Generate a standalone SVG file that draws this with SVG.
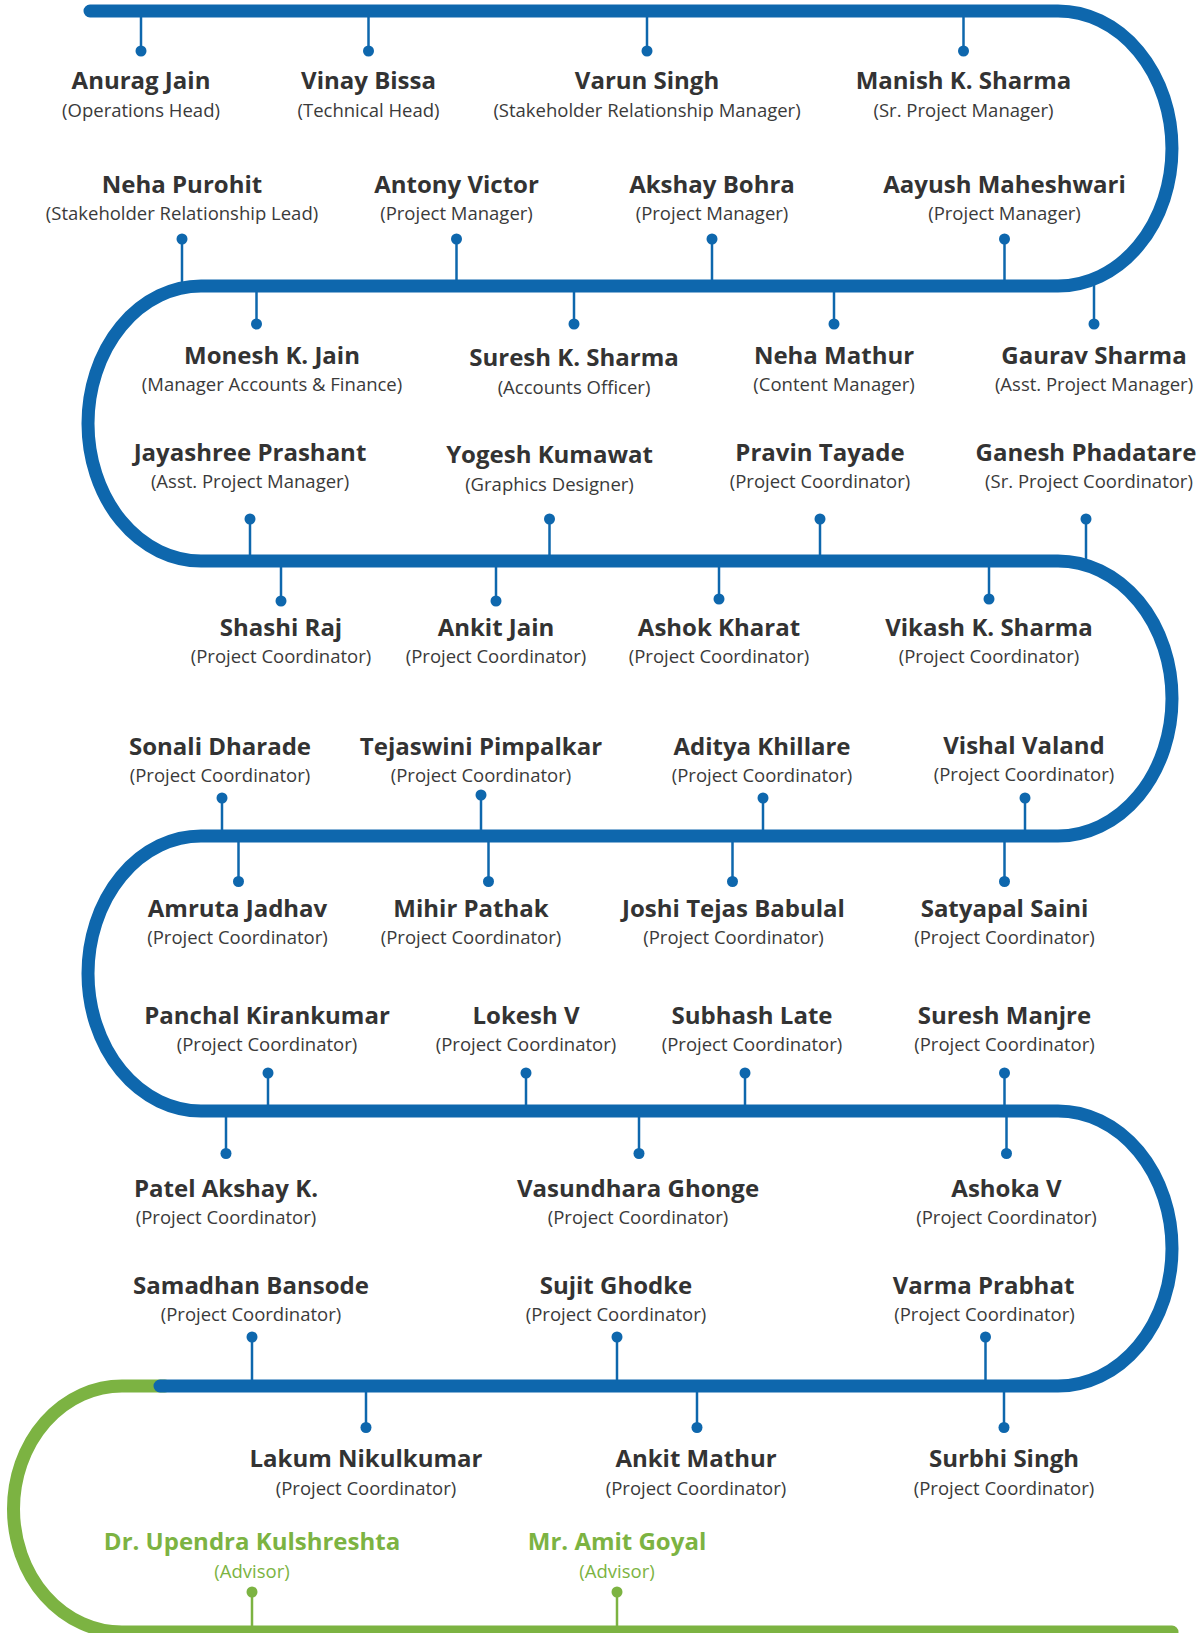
<svg xmlns="http://www.w3.org/2000/svg" width="1198" height="1633" viewBox="0 0 1198 1633">
<style>
.name{font-family:"Open Sans","DejaVu Sans",sans-serif;font-weight:700;font-size:24px;fill:#333333;text-anchor:middle}
.role{font-family:"Open Sans","DejaVu Sans",sans-serif;font-weight:400;font-size:18.5px;fill:#3a3a3a;text-anchor:middle}
.g .name,.g .role{fill:#7cb342}
.stem{stroke:#0e67ad;stroke-width:2.5;fill:none}
.dot{fill:#0e67ad}
.gstem{stroke:#7cb342;stroke-width:2.5;fill:none}
.gdot{fill:#7cb342}
</style>
<rect width="1198" height="1633" fill="#ffffff"/>
<g id="connectors">
<!-- row A -->
<line class="stem" x1="141" y1="11" x2="141" y2="51"/><circle class="dot" cx="141" cy="51" r="5.5"/>
<line class="stem" x1="368.5" y1="11" x2="368.5" y2="51"/><circle class="dot" cx="368.5" cy="51" r="5.5"/>
<line class="stem" x1="647" y1="11" x2="647" y2="51"/><circle class="dot" cx="647" cy="51" r="5.5"/>
<line class="stem" x1="963.5" y1="11" x2="963.5" y2="51"/><circle class="dot" cx="963.5" cy="51" r="5.5"/>
<!-- row B -->
<line class="stem" x1="182" y1="288" x2="182" y2="239"/><circle class="dot" cx="182" cy="239" r="5.5"/>
<line class="stem" x1="456.5" y1="286" x2="456.5" y2="239"/><circle class="dot" cx="456.5" cy="239" r="5.5"/>
<line class="stem" x1="712" y1="286" x2="712" y2="239"/><circle class="dot" cx="712" cy="239" r="5.5"/>
<line class="stem" x1="1004.5" y1="286" x2="1004.5" y2="239"/><circle class="dot" cx="1004.5" cy="239" r="5.5"/>
<!-- row C -->
<line class="stem" x1="256.5" y1="286" x2="256.5" y2="324"/><circle class="dot" cx="256.5" cy="324" r="5.5"/>
<line class="stem" x1="574" y1="286" x2="574" y2="324"/><circle class="dot" cx="574" cy="324" r="5.5"/>
<line class="stem" x1="834" y1="286" x2="834" y2="324"/><circle class="dot" cx="834" cy="324" r="5.5"/>
<line class="stem" x1="1094" y1="279" x2="1094" y2="324"/><circle class="dot" cx="1094" cy="324" r="5.5"/>
<!-- row D -->
<line class="stem" x1="250" y1="561" x2="250" y2="519"/><circle class="dot" cx="250" cy="519" r="5.5"/>
<line class="stem" x1="549.5" y1="561" x2="549.5" y2="519"/><circle class="dot" cx="549.5" cy="519" r="5.5"/>
<line class="stem" x1="820" y1="561" x2="820" y2="519"/><circle class="dot" cx="820" cy="519" r="5.5"/>
<line class="stem" x1="1086" y1="565" x2="1086" y2="519"/><circle class="dot" cx="1086" cy="519" r="5.5"/>
<!-- row E -->
<line class="stem" x1="281" y1="561" x2="281" y2="601"/><circle class="dot" cx="281" cy="601" r="5.5"/>
<line class="stem" x1="496" y1="561" x2="496" y2="601"/><circle class="dot" cx="496" cy="601" r="5.5"/>
<line class="stem" x1="719" y1="561" x2="719" y2="599"/><circle class="dot" cx="719" cy="599" r="5.5"/>
<line class="stem" x1="989" y1="561" x2="989" y2="599"/><circle class="dot" cx="989" cy="599" r="5.5"/>
<!-- row F -->
<line class="stem" x1="222" y1="836" x2="222" y2="798"/><circle class="dot" cx="222" cy="798" r="5.5"/>
<line class="stem" x1="481" y1="836" x2="481" y2="795"/><circle class="dot" cx="481" cy="795" r="5.5"/>
<line class="stem" x1="763" y1="836" x2="763" y2="798"/><circle class="dot" cx="763" cy="798" r="5.5"/>
<line class="stem" x1="1025" y1="836" x2="1025" y2="798"/><circle class="dot" cx="1025" cy="798" r="5.5"/>
<!-- row G -->
<line class="stem" x1="238.5" y1="836" x2="238.5" y2="881.5"/><circle class="dot" cx="238.5" cy="881.5" r="5.5"/>
<line class="stem" x1="488.5" y1="836" x2="488.5" y2="881.5"/><circle class="dot" cx="488.5" cy="881.5" r="5.5"/>
<line class="stem" x1="732.5" y1="836" x2="732.5" y2="881.5"/><circle class="dot" cx="732.5" cy="881.5" r="5.5"/>
<line class="stem" x1="1004.5" y1="836" x2="1004.5" y2="881.5"/><circle class="dot" cx="1004.5" cy="881.5" r="5.5"/>
<!-- row H -->
<line class="stem" x1="268" y1="1111" x2="268" y2="1073"/><circle class="dot" cx="268" cy="1073" r="5.5"/>
<line class="stem" x1="526" y1="1111" x2="526" y2="1073"/><circle class="dot" cx="526" cy="1073" r="5.5"/>
<line class="stem" x1="745" y1="1111" x2="745" y2="1073"/><circle class="dot" cx="745" cy="1073" r="5.5"/>
<line class="stem" x1="1004.5" y1="1111" x2="1004.5" y2="1073"/><circle class="dot" cx="1004.5" cy="1073" r="5.5"/>
<!-- row I -->
<line class="stem" x1="226" y1="1111" x2="226" y2="1153.5"/><circle class="dot" cx="226" cy="1153.5" r="5.5"/>
<line class="stem" x1="639" y1="1111" x2="639" y2="1153.5"/><circle class="dot" cx="639" cy="1153.5" r="5.5"/>
<line class="stem" x1="1006.5" y1="1111" x2="1006.5" y2="1153.5"/><circle class="dot" cx="1006.5" cy="1153.5" r="5.5"/>
<!-- row J -->
<line class="stem" x1="252" y1="1386" x2="252" y2="1337"/><circle class="dot" cx="252" cy="1337" r="5.5"/>
<line class="stem" x1="617" y1="1386" x2="617" y2="1337"/><circle class="dot" cx="617" cy="1337" r="5.5"/>
<line class="stem" x1="985.5" y1="1386" x2="985.5" y2="1337"/><circle class="dot" cx="985.5" cy="1337" r="5.5"/>
<!-- row K -->
<line class="stem" x1="366" y1="1386" x2="366" y2="1427.5"/><circle class="dot" cx="366" cy="1427.5" r="5.5"/>
<line class="stem" x1="697" y1="1386" x2="697" y2="1427.5"/><circle class="dot" cx="697" cy="1427.5" r="5.5"/>
<line class="stem" x1="1004" y1="1386" x2="1004" y2="1427.5"/><circle class="dot" cx="1004" cy="1427.5" r="5.5"/>
<!-- row L -->
<line class="gstem" x1="252" y1="1632" x2="252" y2="1592"/><circle class="gdot" cx="252" cy="1592" r="5.5"/>
<line class="gstem" x1="617" y1="1632" x2="617" y2="1592"/><circle class="gdot" cx="617" cy="1592" r="5.5"/>
</g>
<g id="track">
<path d="M165,1386 H122 A108.5 123 0 0 0 122,1632 H1172" fill="none" stroke="#7cb342" stroke-width="13" stroke-linecap="round"/>
<path d="M90,11 H1058 A114 137.5 0 0 1 1058,286 H201 A113 137.5 0 0 0 201,561 H1058 A114 137.5 0 0 1 1058,836 H201 A113 137.5 0 0 0 201,1111 H1058 A114 137.5 0 0 1 1058,1386 H160" fill="none" stroke="#0e67ad" stroke-width="13" stroke-linecap="round"/>
</g>
<g id="n-anurag"><text class="name" x="141" y="89">Anurag Jain</text><text class="role" x="141" y="116.5">(Operations Head)</text></g>
<g id="n-vinay"><text class="name" x="368.5" y="89">Vinay Bissa</text><text class="role" x="368.5" y="116.5">(Technical Head)</text></g>
<g id="n-varun"><text class="name" x="647" y="89">Varun Singh</text><text class="role" x="647" y="116.5">(Stakeholder Relationship Manager)</text></g>
<g id="n-manish"><text class="name" x="963.5" y="89">Manish K. Sharma</text><text class="role" x="963.5" y="116.5">(Sr. Project Manager)</text></g>
<g id="n-neha-purohit"><text class="name" x="182" y="193">Neha Purohit</text><text class="role" x="182" y="220">(Stakeholder Relationship Lead)</text></g>
<g id="n-antony"><text class="name" x="456.5" y="193">Antony Victor</text><text class="role" x="456.5" y="220">(Project Manager)</text></g>
<g id="n-akshay"><text class="name" x="712" y="193">Akshay Bohra</text><text class="role" x="712" y="220">(Project Manager)</text></g>
<g id="n-aayush"><text class="name" x="1004.5" y="193">Aayush Maheshwari</text><text class="role" x="1004.5" y="220">(Project Manager)</text></g>
<g id="n-monesh"><text class="name" x="272" y="364">Monesh K. Jain</text><text class="role" x="272" y="391">(Manager Accounts &amp; Finance)</text></g>
<g id="n-suresh-k"><text class="name" x="574" y="366">Suresh K. Sharma</text><text class="role" x="574" y="393.5">(Accounts Officer)</text></g>
<g id="n-neha-mathur"><text class="name" x="834" y="364">Neha Mathur</text><text class="role" x="834" y="391">(Content Manager)</text></g>
<g id="n-gaurav"><text class="name" x="1094" y="364">Gaurav Sharma</text><text class="role" x="1094" y="391">(Asst. Project Manager)</text></g>
<g id="n-jayashree"><text class="name" x="250" y="460.5">Jayashree Prashant</text><text class="role" x="250" y="488">(Asst. Project Manager)</text></g>
<g id="n-yogesh"><text class="name" x="549.5" y="463">Yogesh Kumawat</text><text class="role" x="549.5" y="490.5">(Graphics Designer)</text></g>
<g id="n-pravin"><text class="name" x="820" y="460.5">Pravin Tayade</text><text class="role" x="820" y="488">(Project Coordinator)</text></g>
<g id="n-ganesh"><text class="name" x="1086" y="460.5">Ganesh Phadatare</text><text class="role" x="1089" y="488">(Sr. Project Coordinator)</text></g>
<g id="n-shashi"><text class="name" x="281" y="636">Shashi Raj</text><text class="role" x="281" y="663">(Project Coordinator)</text></g>
<g id="n-ankit-jain"><text class="name" x="496" y="636">Ankit Jain</text><text class="role" x="496" y="663">(Project Coordinator)</text></g>
<g id="n-ashok"><text class="name" x="719" y="636">Ashok Kharat</text><text class="role" x="719" y="663">(Project Coordinator)</text></g>
<g id="n-vikash"><text class="name" x="989" y="636">Vikash K. Sharma</text><text class="role" x="989" y="663">(Project Coordinator)</text></g>
<g id="n-sonali"><text class="name" x="220" y="755">Sonali Dharade</text><text class="role" x="220" y="782">(Project Coordinator)</text></g>
<g id="n-tejaswini"><text class="name" x="481" y="755">Tejaswini Pimpalkar</text><text class="role" x="481" y="782">(Project Coordinator)</text></g>
<g id="n-aditya"><text class="name" x="762" y="755">Aditya Khillare</text><text class="role" x="762" y="782">(Project Coordinator)</text></g>
<g id="n-vishal"><text class="name" x="1024" y="754">Vishal Valand</text><text class="role" x="1024" y="781">(Project Coordinator)</text></g>
<g id="n-amruta"><text class="name" x="237.5" y="917">Amruta Jadhav</text><text class="role" x="237.5" y="944">(Project Coordinator)</text></g>
<g id="n-mihir"><text class="name" x="471" y="917">Mihir Pathak</text><text class="role" x="471" y="944">(Project Coordinator)</text></g>
<g id="n-joshi"><text class="name" x="733.5" y="917">Joshi Tejas Babulal</text><text class="role" x="733.5" y="944">(Project Coordinator)</text></g>
<g id="n-satyapal"><text class="name" x="1004.5" y="917">Satyapal Saini</text><text class="role" x="1004.5" y="944">(Project Coordinator)</text></g>
<g id="n-panchal"><text class="name" x="267" y="1024">Panchal Kirankumar</text><text class="role" x="267" y="1050.5">(Project Coordinator)</text></g>
<g id="n-lokesh"><text class="name" x="526" y="1024">Lokesh V</text><text class="role" x="526" y="1050.5">(Project Coordinator)</text></g>
<g id="n-subhash"><text class="name" x="752" y="1024">Subhash Late</text><text class="role" x="752" y="1050.5">(Project Coordinator)</text></g>
<g id="n-suresh-m"><text class="name" x="1004.5" y="1024">Suresh Manjre</text><text class="role" x="1004.5" y="1050.5">(Project Coordinator)</text></g>
<g id="n-patel"><text class="name" x="226" y="1197">Patel Akshay K.</text><text class="role" x="226" y="1224">(Project Coordinator)</text></g>
<g id="n-vasundhara"><text class="name" x="638" y="1197">Vasundhara Ghonge</text><text class="role" x="638" y="1224">(Project Coordinator)</text></g>
<g id="n-ashoka"><text class="name" x="1006.5" y="1197">Ashoka V</text><text class="role" x="1006.5" y="1224">(Project Coordinator)</text></g>
<g id="n-samadhan"><text class="name" x="251" y="1294">Samadhan Bansode</text><text class="role" x="251" y="1321">(Project Coordinator)</text></g>
<g id="n-sujit"><text class="name" x="616" y="1294">Sujit Ghodke</text><text class="role" x="616" y="1321">(Project Coordinator)</text></g>
<g id="n-varma"><text class="name" x="983.5" y="1294">Varma Prabhat</text><text class="role" x="984.5" y="1321">(Project Coordinator)</text></g>
<g id="n-lakum"><text class="name" x="366" y="1467">Lakum Nikulkumar</text><text class="role" x="366" y="1495">(Project Coordinator)</text></g>
<g id="n-ankit-mathur"><text class="name" x="696" y="1467">Ankit Mathur</text><text class="role" x="696" y="1495">(Project Coordinator)</text></g>
<g id="n-surbhi"><text class="name" x="1004" y="1467">Surbhi Singh</text><text class="role" x="1004" y="1495">(Project Coordinator)</text></g>
<g id="n-upendra" class="g"><text class="name" x="252" y="1550">Dr. Upendra Kulshreshta</text><text class="role" x="252" y="1578">(Advisor)</text></g>
<g id="n-amit" class="g"><text class="name" x="617" y="1550">Mr. Amit Goyal</text><text class="role" x="617" y="1578">(Advisor)</text></g>
</svg>
